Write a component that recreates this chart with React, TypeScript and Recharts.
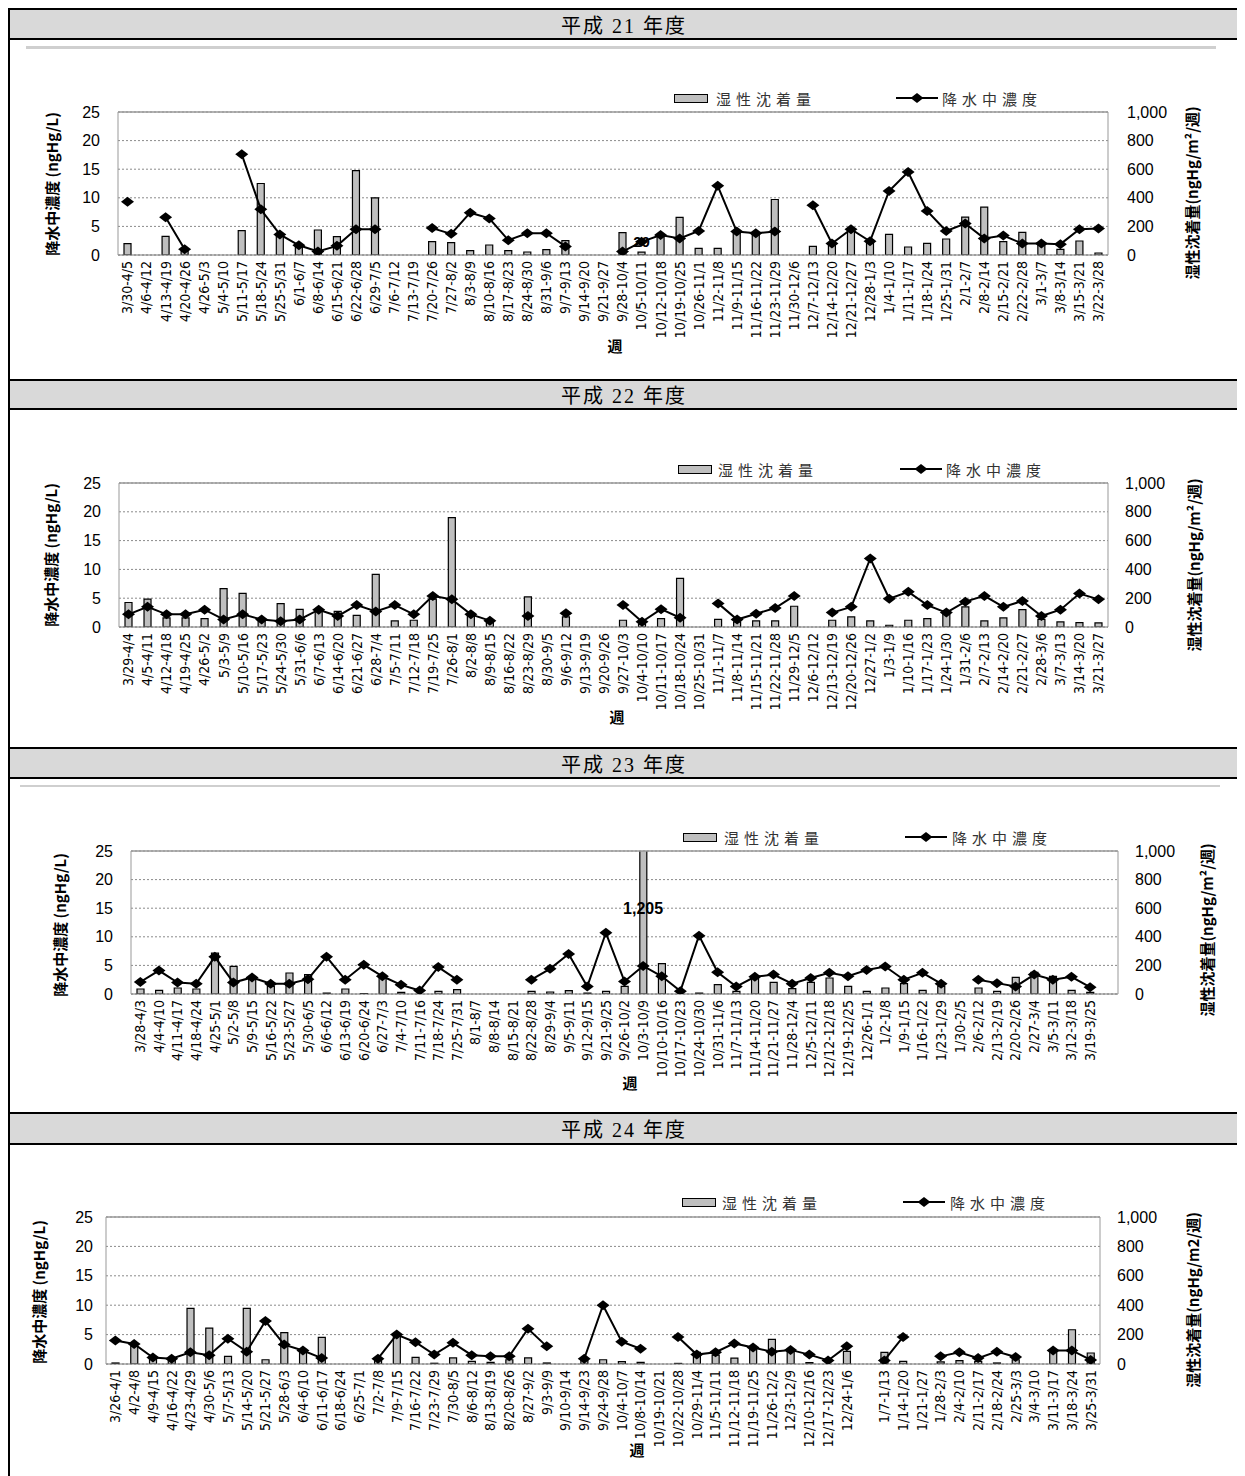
import React from "react";
import {
  Bar,
  CartesianGrid,
  ComposedChart,
  LabelList,
  Line,
  ReferenceDot,
  ReferenceLine,
  XAxis,
  YAxis,
} from "recharts";

// ---- 平成21年度 ----
const weeksH21 = [
  "3/30-4/5", "4/6-4/12", "4/13-4/19", "4/20-4/26", "4/26-5/3", "5/4-5/10", "5/11-5/17", "5/18-5/24",
  "5/25-5/31", "6/1-6/7", "6/8-6/14", "6/15-6/21", "6/22-6/28", "6/29-7/5", "7/6-7/12", "7/13-7/19",
  "7/20-7/26", "7/27-8/2", "8/3-8/9", "8/10-8/16", "8/17-8/23", "8/24-8/30", "8/31-9/6", "9/7-9/13",
  "9/14-9/20", "9/21-9/27", "9/28-10/4", "10/5-10/11", "10/12-10/18", "10/19-10/25", "10/26-11/1", "11/2-11/8",
  "11/9-11/15", "11/16-11/22", "11/23-11/29", "11/30-12/6", "12/7-12/13", "12/14-12/20", "12/21-12/27", "12/28-1/3",
  "1/4-1/10", "1/11-1/17", "1/18-1/24", "1/25-1/31", "2/1-2/7", "2/8-2/14", "2/15-2/21", "2/22-2/28",
  "3/1-3/7", "3/8-3/14", "3/15-3/21", "3/22-3/28",
];
const depH21 = [
  80, null, 130, 25, null, null, 170, 500, 140, 58, 175, 128, 590, 400, null, null,
  93, 86, 30, 70, 30, 21, 37, 100, null, null, 156, 20, 140, 263, 47, 47,
  163, 156, 388, null, 60, 80, 180, 105, 144, 56, 81, 112, 265, 335, 93, 158,
  70, 40, 98, 14,
];
const concH21 = [
  9.3, null, 6.6, 1.0, null, null, 17.6, 8.0, 3.6, 1.7, 0.6, 1.6, 4.5, 4.5, null, null,
  4.7, 3.7, 7.4, 6.4, 2.6, 3.8, 3.8, 1.5, null, null, 0.6, 2.3, 3.5, 2.9, 4.2, 12.1,
  4.1, 3.8, 4.1, null, 8.7, 2.0, 4.5, 2.4, 11.2, 14.5, 7.7, 4.2, 5.5, 2.9, 3.4, 2.0,
  2.0, 1.9, 4.5, 4.65,
];
const notesH21: [number, string][] = [[27, "20"]];

// ---- 平成22年度 ----
const weeksH22 = [
  "3/29-4/4", "4/5-4/11", "4/12-4/18", "4/19-4/25", "4/26-5/2", "5/3-5/9", "5/10-5/16", "5/17-5/23",
  "5/24-5/30", "5/31-6/6", "6/7-6/13", "6/14-6/20", "6/21-6/27", "6/28-7/4", "7/5-7/11", "7/12-7/18",
  "7/19-7/25", "7/26-8/1", "8/2-8/8", "8/9-8/15", "8/16-8/22", "8/23-8/29", "8/30-9/5", "9/6-9/12",
  "9/13-9/19", "9/20-9/26", "9/27-10/3", "10/4-10/10", "10/11-10/17", "10/18-10/24", "10/25-10/31", "11/1-11/7",
  "11/8-11/14", "11/15-11/21", "11/22-11/28", "11/29-12/5", "12/6-12/12", "12/13-12/19", "12/20-12/26", "12/27-1/2",
  "1/3-1/9", "1/10-1/16", "1/17-1/23", "1/24-1/30", "1/31-2/6", "2/7-2/13", "2/14-2/20", "2/21-2/27",
  "2/28-3/6", "3/7-3/13", "3/14-3/20", "3/21-3/27",
];
const depH22 = [
  170, 193, 63, 63, 58, 267, 233, 42, 163, 123, 116, 109, 81, 365, 42, 47,
  193, 760, 81, 30, null, 209, null, 70, null, null, 47, 20, 58, 337, null, 53,
  35, 42, 42, 144, null, 47, 70, 42, 12, 47, 58, 93, 140, 42, 63, 121,
  53, 35, 30, 28,
];
const concH22 = [
  2.2, 3.5, 2.2, 2.2, 3.0, 1.3, 2.2, 1.3, 1.0, 1.3, 3.0, 1.9, 3.8, 2.7, 3.8, 2.2,
  5.4, 4.8, 2.2, 1.1, null, 1.9, null, 2.4, null, null, 3.8, 0.9, 3.1, 1.6, null, 4.1,
  1.3, 2.3, 3.3, 5.4, null, 2.5, 3.5, 11.9, 4.9, 6.1, 3.8, 2.5, 4.4, 5.4, 3.5, 4.5,
  1.9, 3.0, 5.8, 4.8,
];

// ---- 平成23年度 ----
const weeksH23 = [
  "3/28-4/3", "4/4-4/10", "4/11-4/17", "4/18-4/24", "4/25-5/1", "5/2-5/8", "5/9-5/15", "5/16-5/22",
  "5/23-5/27", "5/30-6/5", "6/6-6/12", "6/13-6/19", "6/20-6/24", "6/27-7/3", "7/4-7/10", "7/11-7/16",
  "7/18-7/24", "7/25-7/31", "8/1-8/7", "8/8-8/14", "8/15-8/21", "8/22-8/28", "8/29-9/4", "9/5-9/11",
  "9/12-9/15", "9/21-9/25", "9/26-10/2", "10/3-10/9", "10/10-10/16", "10/17-10/23", "10/24-10/30", "10/31-11/6",
  "11/7-11/13", "11/14-11/20", "11/21-11/27", "11/28-12/4", "12/5-12/11", "12/12-12/18", "12/19-12/25", "12/26-1/1",
  "1/2-1/8", "1/9-1/15", "1/16-1/22", "1/23-1/29", "1/30-2/5", "2/6-2/12", "2/13-2/19", "2/20-2/26",
  "2/27-3/4", "3/5-3/11", "3/12-3/18", "3/19-3/25", "",
];
const depH23 = [
  35, 26, 42, 35, 286, 193, 105, 53, 147, 135, 7, 35, 3, 123, 12, null,
  19, 30, null, null, null, 19, 14, 23, 7, 19, 53, 1205, 212, null, 7, 65,
  19, 128, 81, 37, 81, 112, 53, 19, 42, 72, 26, 53, null, 42, 19, 116,
  151, 123, 26, 12, null,
];
const concH23 = [
  2.1, 4.1, 2.0, 1.8, 6.5, 2.0, 2.9, 1.8, 1.8, 2.6, 6.5, 2.5, 5.1, 3.1, 1.6, 0.6,
  4.7, 2.5, null, null, null, 2.5, 4.4, 7.0, 1.3, 10.7, 2.2, 4.9, 3.1, 0.5, 10.2, 3.8,
  1.3, 3.0, 3.4, 1.8, 2.8, 3.7, 3.1, 4.2, 4.8, 2.5, 3.7, 1.8, null, 2.5, 1.9, 1.3,
  3.4, 2.5, 3.0, 1.2, null,
];

// ---- 平成24年度 ----
const weeksH24 = [
  "3/26-4/1", "4/2-4/8", "4/9-4/15", "4/16-4/22", "4/23-4/29", "4/30-5/6", "5/7-5/13", "5/14-5/20",
  "5/21-5/27", "5/28-6/3", "6/4-6/10", "6/11-6/17", "6/18-6/24", "6/25-7/1", "7/2-7/8", "7/9-7/15",
  "7/16-7/22", "7/23-7/29", "7/30-8/5", "8/6-8/12", "8/13-8/19", "8/20-8/26", "8/27-9/2", "9/3-9/9",
  "9/10-9/14", "9/14-9/23", "9/24-9/28", "10/4-10/7", "10/8-10/14", "10/19-10/21", "10/22-10/28", "10/29-11/4",
  "11/5-11/11", "11/12-11/18", "11/19-11/25", "11/26-12/2", "12/3-12/9", "12/10-12/16", "12/17-12/23", "12/24-1/6",
  "", "1/7-1/13", "1/14-1/20", "1/21-1/27", "1/28-2/3", "2/4-2/10", "2/11-2/17", "2/18-2/24",
  "2/25-3/3", "3/4-3/10", "3/11-3/17", "3/18-3/24", "3/25-3/31",
];
const depH24 = [
  7, 120, 41, 29, 379, 244, 52, 379, 29, 214, 93, 181, null, null, 36, 192,
  45, 5, 41, 18, 11, 29, 41, 7, null, 36, 29, 16, 11, null, 4, 79,
  61, 40, 110, 167, 88, 10, null, 86, null, 79, 18, null, 14, 23, 18, 7,
  29, null, 86, 233, 75,
];
const concH24 = [
  4.0, 3.4, 1.1, 0.9, 2.0, 1.5, 4.3, 2.1, 7.3, 3.3, 2.3, 1.0, null, null, 0.9, 5.0,
  3.7, 1.6, 3.6, 1.5, 1.3, 1.3, 6.0, 3.0, null, 0.9, 10.0, 3.8, 2.6, null, 4.6, 1.6,
  2.0, 3.5, 2.8, 2.1, 2.4, 1.6, 0.6, 3.0, null, 0.6, 4.6, null, 1.3, 2.0, 1.0, 2.1,
  1.2, null, 2.3, 2.3, 0.7,
];

const leftTicks = [0, 5, 10, 15, 20, 25];
const rightTicks = [0, 200, 400, 600, 800, 1000];

const CHART_W = 1230;
const SANS = "'Liberation Sans', Arial, sans-serif";
const NARROW = "'Liberation Sans Narrow', 'DejaVu Sans Condensed', 'Liberation Sans', sans-serif";
const JP = "'Noto Sans CJK JP', sans-serif";

type Row = { name: string; dep: number | null; conc: number | null; note?: string };

function rows(weeks: string[], dep: (number | null)[], conc: (number | null)[], notes: [number, string][] = []): Row[] {
  return weeks.map((name, i) => {
    const n = notes.find((x) => x[0] === i);
    return { name, dep: dep[i], conc: conc[i], note: n ? n[1] : undefined };
  });
}

function WeekTick(props: any) {
  const { x, y, payload } = props;
  return (
    <g transform={`translate(${x},${y})`}>
      <text transform="rotate(-90)" textAnchor="end" dy="0.35em" fontSize={14} fontFamily={NARROW} fill="#000">
        {payload.value}
      </text>
    </g>
  );
}

function Diamond(props: any) {
  const { cx, cy, payload, index } = props;
  if (payload?.conc == null || cx == null || cy == null) return <g key={`d-${index}`} />;
  return (
    <polygon
      key={`d-${index}`}
      points={`${cx},${cy - 5} ${cx + 6.5},${cy} ${cx},${cy + 5} ${cx - 6.5},${cy}`}
      fill="#000"
    />
  );
}

type Cfg = {
  year: string;
  plotL: number;
  plotR: number;
  plotT: number;
  plotB: number;
  leftTickEdge: number;
  rightTickEdge: number;
  leftTitle: [number, number];
  rightTitle: [number, number];
  rightTitleText: string;
  legendY: number;
  swatchX: number;
  swatchTextX: number;
  lineX: number;
  lineTextX: number;
  week: [number, number];
  bigLabel?: { x: string; y: number; text: string };
};

// page coords -> container coords (container sits at 8,8)
const P = (v: number) => v - 8;

function Panel({ cfg, data }: { cfg: Cfg; data: Row[] }) {
  const chartTop = cfg.plotT - 10;
  const height = 10 + (cfg.plotB - cfg.plotT) + 100;
  const ml = cfg.plotL - 8 - 60;
  const mr = 8 + CHART_W - cfg.plotR - 80;
  const tickStyle = { fontSize: 16, fill: "#000", fontFamily: SANS };
  return (
    <>
      <div style={{ position: "absolute", left: 0, top: P(chartTop) }}>
        <ComposedChart width={CHART_W} height={height} data={data} margin={{ top: 10, right: mr, bottom: 0, left: ml }}>
          <CartesianGrid yAxisId="left" vertical={false} stroke="#8a8a8a" strokeDasharray="2 2" />
          <XAxis
            dataKey="name"
            interval={0}
            tick={<WeekTick />}
            tickLine={false}
            tickSize={0}
            tickMargin={6}
            height={100}
            stroke="#777"
          />
          <YAxis
            yAxisId="left"
            domain={[0, 25]}
            ticks={leftTicks}
            width={60}
            tickLine={false}
            tickSize={0}
            tickMargin={cfg.plotL - cfg.leftTickEdge}
            stroke="#999"
            tick={tickStyle}
            allowDataOverflow
          />
          <YAxis
            yAxisId="right"
            orientation="right"
            domain={[0, 1000]}
            ticks={rightTicks}
            width={80}
            tickLine={false}
            tickSize={0}
            tickMargin={cfg.rightTickEdge - cfg.plotR}
            stroke="#999"
            tick={tickStyle}
            tickFormatter={(v: number) => v.toLocaleString("en-US")}
            allowDataOverflow
          />
          <ReferenceLine yAxisId="left" y={25} stroke="#999" strokeWidth={1.5} />
          <Bar
            yAxisId="right"
            dataKey="dep"
            barSize={7}
            fill="#bfbfbf"
            stroke="#000"
            strokeWidth={1.2}
            isAnimationActive={false}
          >
            <LabelList
              dataKey="note"
              position="top"
              fontSize={15}
              fontWeight="bold"
              fill="#000"
              fontFamily={SANS}
            />
          </Bar>
          <Line
            yAxisId="left"
            dataKey="conc"
            stroke="#000"
            strokeWidth={2}
            dot={<Diamond />}
            activeDot={false}
            isAnimationActive={false}
            connectNulls={false}
          />
          {cfg.bigLabel && (
            <ReferenceDot
              yAxisId="right"
              x={cfg.bigLabel.x}
              y={cfg.bigLabel.y}
              r={1}
              fill="none"
              stroke="none"
              label={{
                value: cfg.bigLabel.text,
                position: "center",
                fontSize: 16,
                fontWeight: "bold",
                fill: "#000",
                fontFamily: SANS,
              }}
            />
          )}
        </ComposedChart>
      </div>

      {/* legend */}
      <div
        style={{
          position: "absolute",
          left: P(cfg.swatchX),
          top: P(cfg.legendY) - 4,
          width: 32,
          height: 7,
          background: "#bfbfbf",
          border: "1px solid #000",
        }}
      />
      <div style={legendText(cfg.swatchTextX, cfg.legendY)}>湿性沈着量</div>
      <svg style={{ position: "absolute", left: P(cfg.lineX), top: P(cfg.legendY) - 6 }} width={42} height={12}>
        <line x1={0} y1={6} x2={42} y2={6} stroke="#000" strokeWidth={2} />
        <polygon points="21,1 27.5,6 21,11 14.5,6" fill="#000" />
      </svg>
      <div style={legendText(cfg.lineTextX, cfg.legendY)}>降水中濃度</div>

      {/* axis titles */}
      <div style={vTitle(cfg.leftTitle)}>降水中濃度 (ngHg/L)</div>
      <div style={vTitle(cfg.rightTitle)}>{cfg.rightTitleText}</div>
      <div
        style={{
          position: "absolute",
          left: P(cfg.week[0]),
          top: P(cfg.week[1]),
          transform: "translate(-50%,-50%)",
          fontFamily: JP,
          fontSize: 15,
          fontWeight: "bold",
        }}
      >
        週
      </div>
    </>
  );
}

function legendText(x: number, y: number): React.CSSProperties {
  return {
    position: "absolute",
    left: P(x),
    top: P(y),
    transform: "translateY(-50%)",
    fontFamily: JP,
    fontSize: 15,
    letterSpacing: 5,
    color: "#333",
    whiteSpace: "nowrap",
    lineHeight: 1,
  };
}

function vTitle([x, y]: [number, number]): React.CSSProperties {
  return {
    position: "absolute",
    left: P(x),
    top: P(y),
    transform: "translate(-50%,-50%) rotate(-90deg)",
    fontFamily: `'Liberation Sans Narrow', ${JP}`,
    fontSize: 15,
    fontWeight: "bold",
    whiteSpace: "nowrap",
    lineHeight: 1,
  };
}

const cfgs: Cfg[] = [
  {
    year: "平成 21 年度",
    plotL: 118, plotR: 1108, plotT: 112, plotB: 255,
    leftTickEdge: 100, rightTickEdge: 1127,
    leftTitle: [51, 184], rightTitle: [1191, 193],
    rightTitleText: "湿性沈着量(ngHg/m²/週)",
    legendY: 98, swatchX: 674, swatchTextX: 716, lineX: 896, lineTextX: 942,
    week: [615, 345],
  },
  {
    year: "平成 22 年度",
    plotL: 119, plotR: 1108, plotT: 483, plotB: 627,
    leftTickEdge: 101, rightTickEdge: 1125,
    leftTitle: [50, 555], rightTitle: [1193, 565],
    rightTitleText: "湿性沈着量(ngHg/m²/週)",
    legendY: 469, swatchX: 678, swatchTextX: 718, lineX: 900, lineTextX: 946,
    week: [617, 716],
  },
  {
    year: "平成 23 年度",
    plotL: 131, plotR: 1118, plotT: 851, plotB: 994,
    leftTickEdge: 113, rightTickEdge: 1135,
    leftTitle: [59, 925], rightTitle: [1206, 930],
    rightTitleText: "湿性沈着量(ngHg/m²/週)",
    legendY: 837, swatchX: 683, swatchTextX: 724, lineX: 905, lineTextX: 952,
    week: [630, 1082],
    bigLabel: { x: "10/3-10/9", y: 600, text: "1,205" },
  },
  {
    year: "平成 24 年度",
    plotL: 106, plotR: 1100, plotT: 1217, plotB: 1364,
    leftTickEdge: 93, rightTickEdge: 1117,
    leftTitle: [38, 1292], rightTitle: [1192, 1300],
    rightTitleText: "湿性沈着量(ngHg/m2/週)",
    legendY: 1202, swatchX: 682, swatchTextX: 722, lineX: 903, lineTextX: 950,
    week: [637, 1449],
  },
];

const panelData: Row[][] = [
  rows(weeksH21, depH21, concH21, notesH21),
  rows(weeksH22, depH22, concH22),
  rows(weeksH23, depH23, concH23),
  rows(weeksH24, depH24, concH24),
];

const headers: [number, number][] = [
  [8, 40],
  [379, 410],
  [747, 779],
  [1112, 1145],
];

export default function App() {
  return (
    <div style={{ position: "relative", width: 1232, height: 1468, background: "#fff", overflow: "hidden" }}>
      {/* table frame */}
      <div style={{ position: "absolute", left: 0, top: 0, width: 2, height: 1468, background: "#000" }} />
      <div style={{ position: "absolute", left: 1230, top: 0, width: 2, height: 1468, background: "#000" }} />
      {headers.map(([t, b], i) => (
        <div
          key={i}
          style={{
            position: "absolute",
            left: 0,
            top: P(t),
            width: 1232,
            height: b - t,
            boxSizing: "border-box",
            border: "2px solid #000",
            background: "#d9d9d9",
            display: "flex",
            alignItems: "center",
            justifyContent: "center",
            fontFamily: `'Liberation Serif', ${JP}`,
            fontSize: 20,
            letterSpacing: 2,
            color: "#000",
          }}
        >
          {cfgs[i].year}
        </div>
      ))}
      {/* light rules seen under some headers */}
      <div style={{ position: "absolute", left: P(26), top: P(46), width: 1190, height: 3, background: "#cfcfcf" }} />
      <div style={{ position: "absolute", left: P(20), top: P(785), width: 1200, height: 2, background: "#cfcfcf" }} />

      {cfgs.map((cfg, i) => (
        <Panel key={cfg.year} cfg={cfg} data={panelData[i]} />
      ))}
    </div>
  );
}
